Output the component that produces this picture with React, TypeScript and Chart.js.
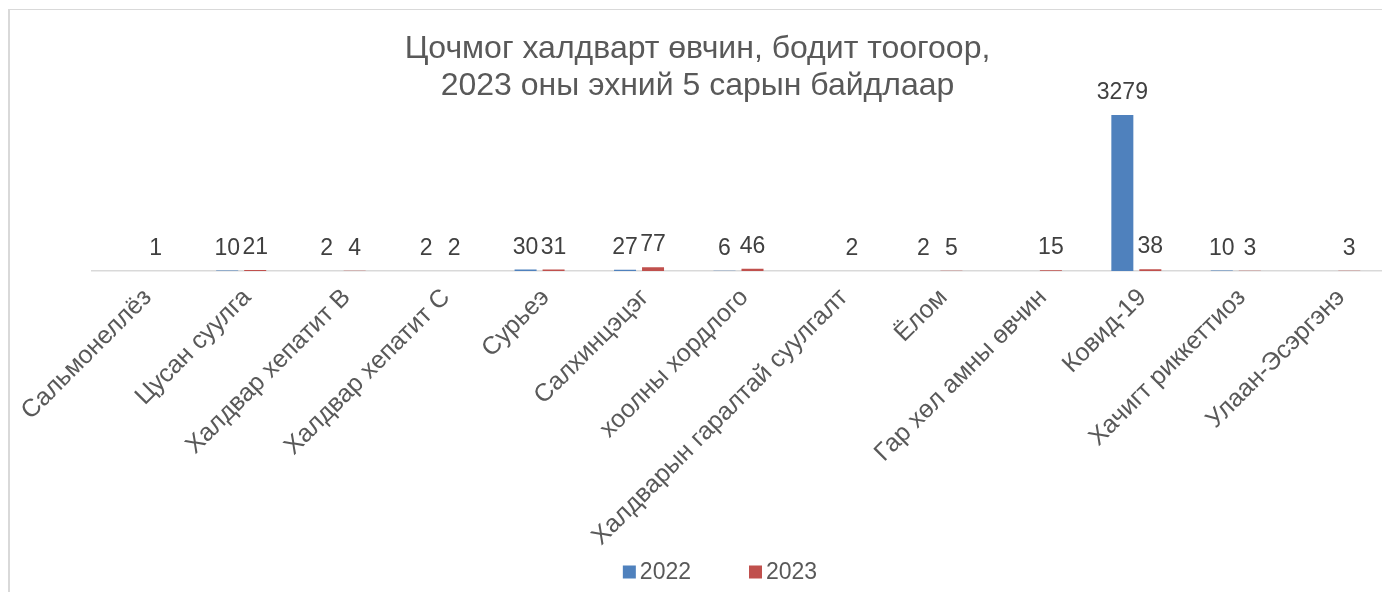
import React, { useEffect, useRef } from "react";
import { Chart, registerables } from "chart.js";

Chart.register(...registerables);

const categories = [
  "Сальмонеллёз",
  "Цусан суулга",
  "Халдвар хепатит B",
  "Халдвар хепатит C",
  "Сурьеэ",
  "Салхинцэцэг",
  "хоолны хордлого",
  "Халдварын гаралтай суулгалт",
  "Ёлом",
  "Гар хөл амны өвчин",
  "Ковид-19",
  "Хачигт риккеттиоз",
  "Улаан-Эсэргэнэ",
];

const values2022: (number | null)[] = [null, 10, 2, 2, 30, 27, 6, null, 2, null, 3279, 10, null];
const values2023: (number | null)[] = [1, 21, 4, 2, 31, 77, 46, 2, 5, 15, 38, 3, 3];

const seriesLabels = ["2022", "2023"];
const titleLines = ["Цочмог халдварт өвчин, бодит тоогоор,", "2023 оны эхний 5 сарын байдлаар"];

const FONT = "'Liberation Sans', Arial, sans-serif";
const BLUE = "#4F81BD";
const RED = "#C0504D";

const dataLabelsPlugin = {
  id: "dataLabelsCustom",
  afterDatasetsDraw(chart: any) {
    const ctx = chart.ctx;
    ctx.save();
    ctx.font = `23px ${FONT}`;
    ctx.fillStyle = "#404040";
    ctx.textAlign = "center";
    ctx.textBaseline = "alphabetic";
    chart.data.datasets.forEach((ds: any, i: number) => {
      const meta = chart.getDatasetMeta(i);
      meta.data.forEach((el: any, j: number) => {
        const v = ds.data[j];
        if (v === null || v === undefined) return;
        ctx.fillText(String(v), el.x, el.y - 16);
      });
    });
    ctx.restore();
  },
};

const legendPlugin = {
  id: "legendCustom",
  afterDraw(chart: any) {
    const ctx = chart.ctx;
    ctx.save();
    ctx.font = `23px ${FONT}`;
    ctx.textBaseline = "middle";
    ctx.textAlign = "left";
    const sq = 13;
    const gap = 4;
    const spacing = 58;
    const items = chart.data.datasets.map((ds: any) => ({
      text: ds.label,
      color: ds.backgroundColor,
      w: ctx.measureText(ds.label).width,
    }));
    let total = 0;
    items.forEach((it: any, i: number) => {
      total += sq + gap + it.w + (i > 0 ? spacing : 0);
    });
    const cx = 710;
    const cy = 562;
    let x = cx - total / 2;
    items.forEach((it: any) => {
      ctx.fillStyle = it.color;
      ctx.fillRect(x, cy - sq / 2, sq, sq);
      ctx.fillStyle = "#595959";
      ctx.fillText(it.text, x + sq + gap, cy + 1);
      x += sq + gap + it.w + spacing;
    });
    ctx.restore();
  },
};

export default function App() {
  const ref = useRef<HTMLCanvasElement | null>(null);

  useEffect(() => {
    document.documentElement.style.overflow = "hidden";
    document.body.style.overflow = "hidden";
    if (!ref.current) return;
    const chart = new Chart(ref.current, {
      type: "bar",
      data: {
        labels: categories,
        datasets: [
          {
            label: seriesLabels[0],
            data: values2022,
            backgroundColor: BLUE,
            categoryPercentage: 0.563,
            barPercentage: 0.786,
          },
          {
            label: seriesLabels[1],
            data: values2023,
            backgroundColor: RED,
            categoryPercentage: 0.563,
            barPercentage: 0.786,
          },
        ],
      },
      options: {
        animation: false,
        responsive: false,
        maintainAspectRatio: false,
        layout: { padding: { left: 0, right: 0, top: 0, bottom: 44 } },
        plugins: {
          legend: { display: false },
          tooltip: { enabled: false },
          title: {
            display: true,
            text: titleLines,
            color: "#595959",
            font: { family: FONT, size: 32, weight: "normal", lineHeight: 1.156 },
            padding: { top: 20.5, bottom: 0 },
          },
        },
        scales: {
          x: {
            grid: { display: false, drawTicks: false },
            border: { display: true, color: "#d9d9d9", width: 1.5 },
            ticks: {
              color: "#595959",
              font: { family: FONT, size: 25 },
              minRotation: 45,
              maxRotation: 45,
              padding: 12,
              labelOffset: 6,
              autoSkip: false,
            },
            afterFit: (scale: any) => {
              scale.height = 285;
              scale.paddingLeft = 82;
              scale.paddingRight = 0;
            },
          },
          y: {
            display: false,
            min: 0,
            max: 3500,
          },
        },
      },
      plugins: [dataLabelsPlugin, legendPlugin],
    });
    return () => chart.destroy();
  }, []);

  return (
    <div
      style={{
        marginTop: 1,
        width: 1375,
        height: 590,
        borderLeft: "2px solid #d9d9d9",
        borderRight: "2px solid #d9d9d9",
        borderTop: "1px solid #d9d9d9",
        overflow: "hidden",
      }}
    >
      <canvas ref={ref} width={1375} height={590} style={{ display: "block" }} />
    </div>
  );
}
